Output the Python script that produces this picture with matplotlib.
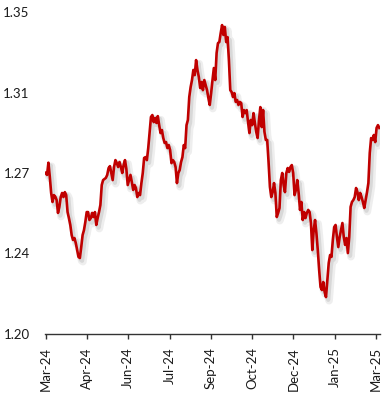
import numpy as np
import matplotlib
matplotlib.use("Agg")
import matplotlib.pyplot as plt
import matplotlib.patheffects as pe

# GBP/USD daily rate, Mar-24 .. Mar-25
rate = [
    1.2751, 1.2741, 1.2798, 1.2733, 1.2657, 1.2615, 1.2647, 1.2640, 1.2624, 1.2564,
    1.2592, 1.2638, 1.2657, 1.2638, 1.2661, 1.2647, 1.2568, 1.2540, 1.2508, 1.2461,
    1.2438, 1.2447, 1.2424, 1.2391, 1.2359, 1.2354, 1.2405, 1.2461, 1.2484, 1.2522,
    1.2568, 1.2568, 1.2531, 1.2540, 1.2564, 1.2545, 1.2568, 1.2508, 1.2540, 1.2568,
    1.2601,
    1.2694, 1.2717, 1.2722, 1.2727, 1.2741, 1.2773, 1.2782, 1.2750, 1.2717, 1.2778,
    1.2810, 1.2796, 1.2778, 1.2801, 1.2778, 1.2750, 1.2787, 1.2810, 1.2769, 1.2694,
    1.2717, 1.2741, 1.2708, 1.2671, 1.2694, 1.2680, 1.2638, 1.2657, 1.2647, 1.2703,
    1.2750, 1.2820, 1.2824, 1.2810, 1.2866, 1.2941, 1.3011, 1.3020, 1.2987, 1.3006,
    1.2983,
    1.3015, 1.2973, 1.2936, 1.2950, 1.2913, 1.2890, 1.2894, 1.2866, 1.2880, 1.2857,
    1.2796, 1.2810, 1.2801, 1.2778, 1.2703, 1.2750, 1.2764, 1.2801, 1.2824, 1.2880,
    1.2866, 1.2973, 1.2997, 1.3104, 1.3150, 1.3183, 1.3230, 1.3206, 1.3276, 1.3230,
    1.3197, 1.3146, 1.3174, 1.3136, 1.3183, 1.3160, 1.3136, 1.3099, 1.3067,
    1.3122, 1.3183, 1.3239, 1.3183, 1.3309, 1.3355, 1.3360, 1.3402, 1.3439, 1.3393,
    1.3430, 1.3360, 1.3383, 1.3276, 1.3136, 1.3127, 1.3104, 1.3122, 1.3081, 1.3090,
    1.3067, 1.3081, 1.3076, 1.3011, 1.3043, 1.3029, 1.3043, 1.2987, 1.2936, 1.2997,
    1.2973, 1.3029, 1.2983, 1.2941, 1.2913, 1.2997, 1.3057, 1.2964, 1.3043, 1.2941,
    1.2904,
    1.2904, 1.2801, 1.2685, 1.2638, 1.2661, 1.2703, 1.2657, 1.2545, 1.2564, 1.2587,
    1.2717, 1.2750, 1.2694, 1.2661, 1.2750, 1.2773, 1.2755, 1.2778, 1.2787, 1.2750,
    1.2647, 1.2671, 1.2717, 1.2657, 1.2578, 1.2615, 1.2531, 1.2568, 1.2540, 1.2564,
    1.2578, 1.2568, 1.2517, 1.2391, 1.2484, 1.2531, 1.2470, 1.2391,
    1.2298, 1.2219, 1.2205, 1.2242, 1.2196, 1.2172, 1.2252, 1.2331, 1.2368, 1.2359,
    1.2438, 1.2498, 1.2508, 1.2452, 1.2405, 1.2452, 1.2484, 1.2517, 1.2452, 1.2415,
    1.2447, 1.2377, 1.2452, 1.2592, 1.2615, 1.2624, 1.2638, 1.2680, 1.2661, 1.2624,
    1.2657, 1.2638, 1.2615, 1.2587, 1.2624, 1.2661, 1.2703, 1.2843, 1.2913, 1.2904,
    1.2927, 1.2894, 1.2960, 1.2973, 1.2960,
]
tick_labels = ["Mar-24", "Apr-24", "Jun-24", "Jul-24", "Sep-24",
               "Oct-24", "Dec-24", "Jan-25", "Mar-25"]
y_ticks = [1.20, 1.2375, 1.275, 1.3125, 1.35]
y_tick_labels = ["1.20", "1.24", "1.27", "1.31", "1.35"]

plt.rcParams["font.family"] = ["Lato", "DejaVu Sans"]

fig = plt.figure(figsize=(3.89, 3.98), dpi=100)
ax = fig.add_axes([45 / 389, 64 / 398, 335 / 389, 322 / 398])

x = np.arange(len(rate))
ax.plot(x, rate, color="#C00000", lw=1.9, solid_joinstyle="round",
        path_effects=[
            pe.SimpleLineShadow(offset=(2.2, -2.6), shadow_color="#777777",
                                alpha=0.12, linewidth=5.5),
            pe.SimpleLineShadow(offset=(1.6, -2.0), shadow_color="#777777",
                                alpha=0.18, linewidth=3),
            pe.Normal()])

ax.set_xlim(-0.5, len(rate) - 0.5)
ax.set_ylim(1.20, 1.35)

ax.set_xticks(np.arange(len(tick_labels)) * 30.2)
ax.set_xticklabels(tick_labels, rotation=90, fontsize=9.5, color="#1a1a1a")
ax.set_yticks(y_ticks)
ax.set_yticklabels(y_tick_labels, fontsize=9.5, color="#1a1a1a")

ax.tick_params(axis="x", direction="out", length=3.5, width=1, color="#333333", pad=6)
ax.tick_params(axis="y", length=0, pad=11)

for side in ["top", "right", "left"]:
    ax.spines[side].set_visible(False)
ax.spines["bottom"].set_color("#333333")
ax.spines["bottom"].set_linewidth(1)

fig.savefig("out.png", dpi=100)
